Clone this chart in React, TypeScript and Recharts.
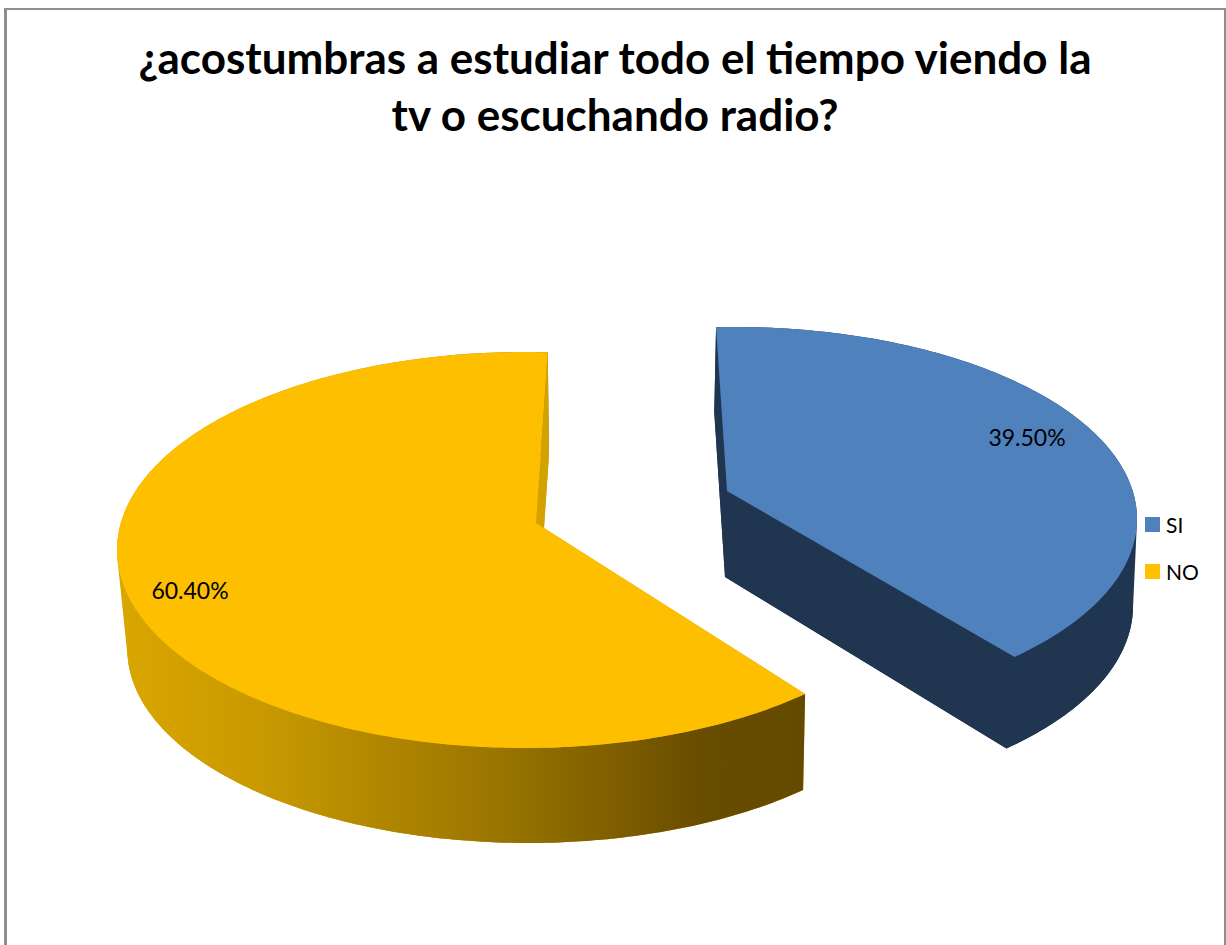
import React from "react";
import { PieChart, Pie, Legend } from "recharts";

const titleLines = ["¿acostumbras a estudiar todo el tiempo viendo la", "tv o escuchando radio?"];
const categories = ["SI", "NO"];
const values = [39.5, 60.4];
const faceColors = ["#4F81BD", "#FDBF00"];
const legendColors = ["#4F81BD", "#FFC000"];
const FONT = "Lato, Carlito, Calibri, sans-serif";
const PIE_CX = 630;
const PIE_CY = 530;
const PIE_R = 408;

const tableData = categories.map((name, i) => ({ name, value: values[i], fill: faceColors[i] }));

// Projection of each exploded slice onto the page: offsets from the pie's centre.
const projection: Record<string, any> = {
  SI: {
    top: { dx: 105, dy: -11, rx: 402, ry: 192, a: 2.7, b: 6.4 },
    bot: { dx: 109, dy: 76, rx: 394, ry: 194, a: 3.6, b: 5.1 },
    apexTop: [97, -39], apexBot: [95, 47],
    wall: "#1F3550", inner: "#1F3550", label: [397, -93],
  },
  NO: {
    top: { dx: -105, dy: 20, rx: 408, ry: 198, a: 5.7, b: -3.2 },
    bot: { dx: -102, dy: 119, rx: 400.7, ry: 194, a: 5.7, b: -3 },
    apexTop: [-94, -7], apexBot: [-92, 85],
    wall: "url(#yellowWall)", inner: "#D4A200", label: [-440, 60],
  },
};

const pt = (cx: number, cy: number, e: any, deg: number) => {
  const r = (deg * Math.PI) / 180;
  return [cx + e.dx + e.rx * Math.cos(r), cy + e.dy - e.ry * Math.sin(r)];
};

const arcPts = (cx: number, cy: number, e: any, from: number, to: number, n: number) => {
  const out: number[][] = [];
  for (let i = 0; i <= n; i++) out.push(pt(cx, cy, e, from + ((to - from) * i) / n));
  return out;
};

const s = (p: number[]) => `${p[0].toFixed(2)} ${p[1].toFixed(2)}`;

// The side wall: one consistently wound quad per step, so it keeps the straight silhouette.
const wallPath = (a: number[][], b: number[][]) => {
  let d = "";
  for (let i = 0; i < a.length - 1; i++) {
    const q = [a[i], a[i + 1], b[i + 1], b[i]];
    let area = 0;
    for (let j = 0; j < 4; j++) {
      const u = q[j];
      const v = q[(j + 1) % 4];
      area += u[0] * v[1] - v[0] * u[1];
    }
    const o = area < 0 ? [...q].reverse() : q;
    d += `M${o.map(s).join(" L")} Z `;
  }
  return d;
};

const Wedge3D = (props: any) => {
  const { cx, cy, startAngle, endAngle, name, fill } = props;
  const g = projection[name];
  if (!g) return null;
  const t0 = startAngle + g.top.a;
  const t1 = endAngle + g.top.b;
  const b0 = startAngle + g.bot.a;
  const b1 = endAngle + g.bot.b;
  const n = Math.ceil(Math.abs(t1 - t0));
  const at = `${cx + g.apexTop[0]} ${cy + g.apexTop[1]}`;
  const ab = `${cx + g.apexBot[0]} ${cy + g.apexBot[1]}`;
  const topArc = arcPts(cx, cy, g.top, t0, t1, n);
  const botArc = arcPts(cx, cy, g.bot, b0, b1, n);
  const face = `M${at} L${topArc.map(s).join(" L")} Z`;
  const floor = `M${ab} L${botArc.map(s).join(" L")} Z`;
  const innerA = `M${s(topArc[0])} L${at} L${ab} L${s(botArc[0])} Z`;
  const innerB = `M${s(topArc[n])} L${at} L${ab} L${s(botArc[n])} Z`;
  return (
    <g>
      <path d={floor} fill={g.inner} />
      <path d={innerA} fill={g.inner} />
      <path d={wallPath(topArc, botArc)} fill={g.wall} />
      <path d={innerB} fill={g.inner} />
      <path d={face} fill={fill} />
    </g>
  );
};

const renderLabel = (props: any) => {
  const { cx, cy, name, value } = props;
  const g = projection[name];
  if (!g) return null;
  return (
    <text x={cx + g.label[0]} y={cy + g.label[1]} textAnchor="middle" dominantBaseline="central" fontFamily={FONT} fontSize={23} fill="#000">
      {`${Number(value).toFixed(2)}%`}
    </text>
  );
};

const renderLegend = () => (
  <div style={{ fontFamily: FONT, fontSize: 21, color: "#000" }}>
    {categories.map((c, i) => (
      <div key={c} style={{ display: "flex", alignItems: "center", height: 47 }}>
        <span style={{ width: 15, height: 15, background: legendColors[i], marginRight: 6, display: "inline-block" }} />
        <span>{c}</span>
      </div>
    ))}
  </div>
);

export default function App() {
  return (
    <div style={{ position: "fixed", left: 0, top: 0, width: 1226, height: 945, background: "#fff", overflow: "hidden" }}>
      <div style={{ position: "absolute", left: 4, top: 8, width: 1217, height: 945, borderLeft: "3px solid #8E8E8E", borderTop: "2px solid #8E8E8E", borderRight: "2px solid #8E8E8E" }} />
      <div style={{ position: "absolute", left: 0, top: 29, width: 1230, textAlign: "center", fontFamily: FONT, fontWeight: 700, fontSize: 44, lineHeight: "57px", color: "#000" }}>
        {titleLines.map((l) => (
          <div key={l}>{l}</div>
        ))}
      </div>
      <div style={{ position: "absolute", left: 0, top: 0 }}>
        <PieChart width={1226} height={945} margin={{ top: 0, right: 0, bottom: 0, left: 0 }}>
          <defs>
            <linearGradient id="yellowWall" gradientUnits="userSpaceOnUse" x1="120" y1="0" x2="806" y2="0">
              <stop offset="0" stopColor="#D9A600" />
              <stop offset="0.2" stopColor="#C99A00" />
              <stop offset="0.55" stopColor="#9A7500" />
              <stop offset="0.85" stopColor="#684C00" />
              <stop offset="1" stopColor="#644A00" />
            </linearGradient>
          </defs>
          <Pie
            data={tableData}
            dataKey="value"
            nameKey="name"
            cx={PIE_CX}
            cy={PIE_CY}
            outerRadius={PIE_R}
            startAngle={90}
            endAngle={-270}
            stroke="none"
            isAnimationActive={false}
            shape={Wedge3D}
            label={renderLabel}
            labelLine={false}
          />
          <Legend
            content={renderLegend}
            layout="vertical"
            wrapperStyle={{ position: "absolute", left: 1145, top: 501, width: 70 }}
          />
        </PieChart>
      </div>
    </div>
  );
}
